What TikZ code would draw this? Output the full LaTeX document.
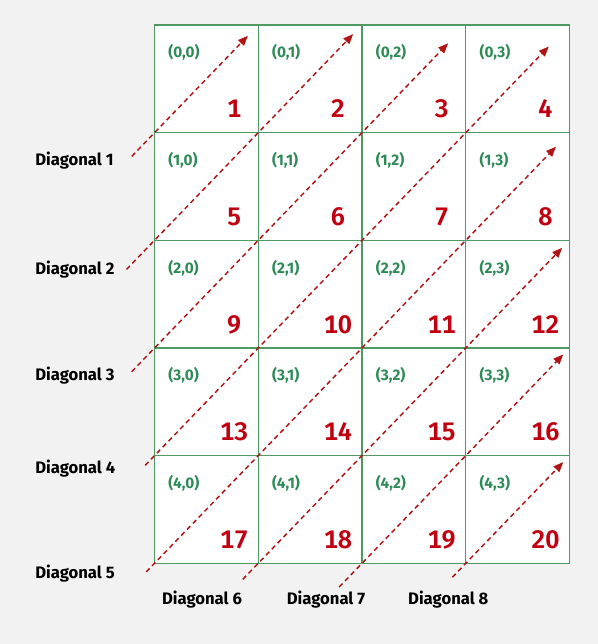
\documentclass[tikz,border=0pt]{standalone}
\usepackage{fontspec}
\setmainfont{Fira Sans}
\newfontfamily\numfont[Numbers=Monospaced]{Fira Sans SemiBold}
\usetikzlibrary{arrows.meta}
\definecolor{bg}{HTML}{F2F2F2}
\definecolor{gridgreen}{HTML}{4E9A62}
\definecolor{coordgreen}{HTML}{2E8B57}
\definecolor{numred}{HTML}{C00010}
\definecolor{arrred}{HTML}{B01515}
\tikzset{
  cellbox/.style={draw=gridgreen, line width=0.9pt, fill=white, anchor=north west,
    minimum width=77.81pt, minimum height=80.745pt, inner sep=0pt, outer sep=0pt},
  numlabel/.style={anchor=base, inner sep=0pt, text=numred, font=\fontsize{19}{21}\numfont},
  coordlabel/.style={anchor=west, inner sep=0pt, text=coordgreen, font=\fontsize{11.5}{13}\selectfont\bfseries},
  diaglabel/.style={inner sep=0pt, text=black, font=\fontsize{12.5}{14}\selectfont\bfseries},
  diagarrow/.style={draw=arrred, line width=1.1pt, dash pattern=on 3.6pt off 2.7pt,
    -{Triangle[length=7.5pt,width=6pt]}}
}
\begin{document}
\begin{tikzpicture}[x=0.75pt,y=-0.75pt]
\fill[bg] (0,0) rectangle (598,644);
\useasboundingbox (0,0) rectangle (598,644);
% cells
\foreach \r in {0,...,4}{
  \foreach \c in {0,...,3}{
    \pgfmathtruncatemacro{\n}{4*\r+\c+1}
    \node[cellbox] (cell-\r-\c) at ({154.5+103.75*\c},{25+107.66*\r}) {};
    \node[coordlabel] (co-\r-\c) at ([xshift=10.2pt,yshift=-20.8pt]cell-\r-\c.north west) {(\r,\c)};
    \node[numlabel] (num-\r-\c) at ([xshift=-18pt,yshift=11pt]cell-\r-\c.south east) {\n};
  }
}
% diagonal end points
\coordinate (d1s) at (131.7,156.4); \coordinate (d1e) at (247.9,35.8);
\coordinate (d2s) at (126.5,269.4); \coordinate (d2e) at (353.2,34.1);
\coordinate (d3s) at (131.7,371.7); \coordinate (d3e) at (448.1,43.3);
\coordinate (d4s) at (145.2,465.3); \coordinate (d4e) at (548.8,46.5);
\coordinate (d5s) at (146.2,571.9); \coordinate (d5e) at (556.0,146.7);
\coordinate (d6s) at (242.7,579.4); \coordinate (d6e) at (562.2,247.8);
\coordinate (d7s) at (339.2,587.0); \coordinate (d7e) at (563.3,354.4);
\coordinate (d8s) at (452.3,577.3); \coordinate (d8e) at (563.3,462.1);
\foreach \k in {1,...,8}{
  \draw[diagarrow] (d\k s) -- (d\k e);
}
% labels
\node[diaglabel, anchor=west] (l1) at (35,161) {Diagonal 1};
\node[diaglabel, anchor=west] (l2) at (35,269.3) {Diagonal 2};
\node[diaglabel, anchor=west] (l3) at (35,376) {Diagonal 3};
\node[diaglabel, anchor=west] (l4) at (35,468.3) {Diagonal 4};
\node[diaglabel, anchor=west] (l5) at (35,574) {Diagonal 5};
\node[diaglabel] (l6) at (202,599.3) {Diagonal 6};
\node[diaglabel] (l7) at (326,599.3) {Diagonal 7};
\node[diaglabel] (l8) at (448.3,599.3) {Diagonal 8};
\end{tikzpicture}
\end{document}
